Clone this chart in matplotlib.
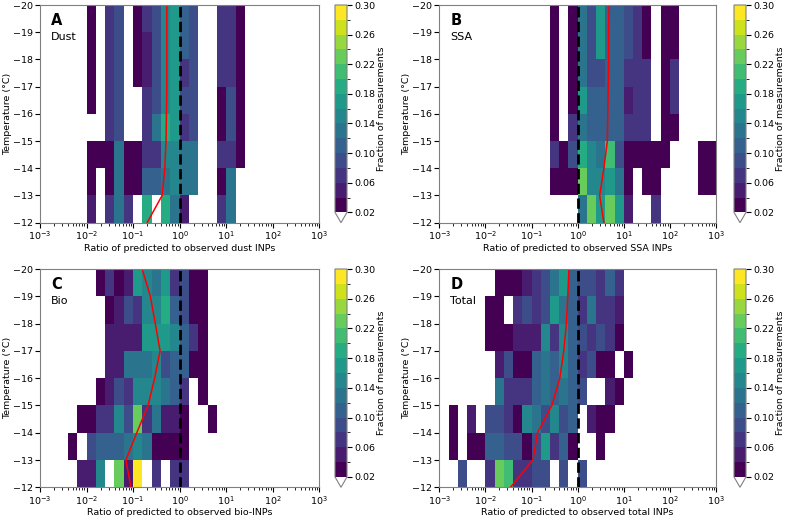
import numpy as np
import matplotlib
matplotlib.use("Agg")
import matplotlib.pyplot as plt
from matplotlib.colors import ListedColormap, BoundaryNorm

plt.rcParams['font.size'] = 6.8

# bins: log10 ratio in steps of 0.2 decades, temperature in 1 degree steps
x_edges = 10 ** np.arange(-3, 3.01, 0.2)
t_edges = np.arange(-12, -21, -1)
t_points = np.arange(-12, -21, -1)

# fraction of measurements (%) per temperature bin, rows from -12..-13 up to -19..-20
dust_pct = [
    [0,0,0,0,0, 5,0,7,13,7, 0,19,0,19,13, 5,0,0,0,7, 13,0,0,0,0, 0,0,0,0,0],
    [0,0,0,0,0, 3,0,3,13,3, 3,11,11,13,15, 13,13,0,0,3, 13,0,0,0,0, 0,0,0,0,0],
    [0,0,0,0,0, 3,3,3,13,3, 3,7,7,15,15, 13,13,0,0,7, 7,3,0,0,0, 0,0,0,0,0],
    [0,0,0,0,0, 0,0,7,9,0, 0,7,13,19,17, 7,9,0,0,3, 9,3,0,0,0, 0,0,0,0,0],
    [0,0,0,0,0, 3,0,7,9,0, 0,7,9,15,17, 9,9,0,0,3, 9,3,0,0,0, 0,0,0,0,0],
    [0,0,0,0,0, 3,0,7,9,0, 3,5,9,15,17, 7,9,0,0,7, 7,3,0,0,0, 0,0,0,0,0],
    [0,0,0,0,0, 3,0,7,9,0, 3,5,9,15,17, 11,9,0,0,7, 7,3,0,0,0, 0,0,0,0,0],
    [0,0,0,0,0, 3,0,7,9,0, 3,7,9,15,17, 11,9,0,0,7, 7,3,0,0,0, 0,0,0,0,0],
]
ssa_pct = [
    [0,0,0,0,0, 0,0,0,0,0, 0,0,0,0,0, 13,23,17,23,17, 5,0,0,7,0, 0,0,0,0,0],
    [0,0,0,0,0, 0,0,0,0,0, 0,0,3,3,3, 23,15,15,17,13, 3,0,3,3,0, 0,0,0,3,3],
    [0,0,0,0,0, 0,0,0,0,0, 0,0,7,3,9, 19,15,13,21,9, 3,3,3,3,3, 0,0,0,3,3],
    [0,0,0,0,0, 0,0,0,0,0, 0,0,3,0,7, 13,11,11,11,11, 7,7,7,0,3, 3,0,0,0,0],
    [0,0,0,0,0, 0,0,0,0,0, 0,0,3,0,3, 17,11,11,11,11, 5,7,7,0,3, 7,0,0,0,0],
    [0,0,0,0,0, 0,0,0,0,0, 0,0,3,0,3, 13,9,9,11,11, 7,7,7,0,3, 7,0,0,0,0],
    [0,0,0,0,0, 0,0,0,0,0, 0,0,3,0,3, 13,9,17,11,11, 9,7,3,0,3, 3,0,0,0,0],
    [0,0,0,0,0, 0,0,0,0,0, 0,0,3,0,3, 13,9,17,11,11, 9,7,3,0,3, 3,0,0,0,0],
]
bio_pct = [
    [0,0,0,0,5, 5,15,0,23,5, 29,0,7,0,7, 7,0,0,0,0, 0,0,0,0,0, 0,0,0,0,0],
    [0,0,0,3,0, 9,11,11,11,13, 15,13,3,3,3, 3,0,0,0,0, 0,0,0,0,0, 0,0,0,0,0],
    [0,0,0,0,3, 3,7,7,15,9, 23,7,13,5,5, 3,0,0,3,0, 0,0,0,0,0, 0,0,0,0,0],
    [0,0,0,0,0, 0,3,5,9,7, 15,15,15,13,11, 7,0,3,0,0, 0,0,0,0,0, 0,0,0,0,0],
    [0,0,0,0,0, 0,0,5,5,13, 13,13,15,9,11, 11,3,3,0,0, 0,0,0,0,0, 0,0,0,0,0],
    [0,0,0,0,0, 0,0,5,5,5, 5,17,17,17,15, 11,7,3,0,0, 0,0,0,0,0, 0,0,0,0,0],
    [0,0,0,0,0, 0,0,3,5,9, 7,15,15,19,11, 9,3,3,0,0, 0,0,0,0,0, 0,0,0,0,0],
    [0,0,0,0,0, 0,3,7,3,5, 17,15,13,17,7, 9,3,3,0,0, 0,0,0,0,0, 0,0,0,0,0],
]
total_pct = [
    [0,0,9,0,0, 7,23,21,7,7, 9,9,0,9,0, 9,0,0,0,0, 0,0,0,0,0, 0,0,0,0,0],
    [0,3,0,3,3, 11,11,9,9,3, 9,17,7,11,3, 0,0,3,0,0, 0,0,0,0,0, 0,0,0,0,0],
    [0,3,0,5,0, 9,9,7,3,15, 13,9,15,9,11, 0,5,3,3,0, 0,0,0,0,0, 0,0,0,0,0],
    [0,0,0,0,0, 0,13,7,7,7, 11,13,11,13,11, 9,0,0,5,3, 0,0,0,0,0, 0,0,0,0,0],
    [0,0,0,0,0, 0,5,9,3,3, 11,13,11,15,11, 7,9,3,3,0, 3,0,0,0,0, 0,0,0,0,0],
    [0,0,0,0,0, 3,3,3,5,5, 5,15,7,15,11, 9,7,9,7,3, 0,0,0,0,0, 0,0,0,0,0],
    [0,0,0,0,0, 3,3,0,7,9, 7,9,17,13,11, 7,13,7,7,5, 0,0,0,0,0, 0,0,0,0,0],
    [0,0,0,0,0, 0,3,3,3,5, 7,9,13,17,11, 9,9,7,11,7, 0,0,0,0,0, 0,0,0,0,0],
]

# median ratio at each temperature (-12 ... -20)
dust_median = [0.20, 0.42, 0.48, 0.51, 0.52, 0.53, 0.53, 0.53, 0.53]
ssa_median = [3.7, 3.0, 3.7, 4.4, 4.5, 4.6, 4.7, 4.7, 4.8]
bio_median = [0.09, 0.07, 0.12, 0.21, 0.29, 0.38, 0.30, 0.235, 0.156]
total_median = [0.035, 0.107, 0.135, 0.275, 0.41, 0.50, 0.57, 0.61, 0.65]

letters = ['A', 'B', 'C', 'D']
names = ['Dust', 'SSA', 'Bio', 'Total']
xlabels = ['Ratio of predicted to observed dust INPs',
           'Ratio of predicted to observed SSA INPs',
           'Ratio of predicted to observed bio-INPs',
           'Ratio of predicted to observed total INPs']
data = [dust_pct, ssa_pct, bio_pct, total_pct]
medians = [dust_median, ssa_median, bio_median, total_median]

levels = np.arange(0.02, 0.3001, 0.02)
cmap = ListedColormap(plt.get_cmap('viridis')(np.linspace(0, 1, len(levels) - 1)))
cmap.set_under('white')
norm = BoundaryNorm(levels, cmap.N)

fig = plt.figure(figsize=(7.85, 5.17), dpi=100)

W, H = 785, 517
boxes = [(40, 5, 279.3, 217.7, 335), (439.3, 5, 276.7, 217.7, 734),
         (40, 269, 279.3, 218.3, 335), (439.3, 269, 276.7, 218.3, 734)]

for i in range(4):
    l, t, w, h, cx = boxes[i]
    ax = fig.add_axes([l / W, (H - t - h) / H, w / W, h / H])
    cax = fig.add_axes([cx / W, (H - t - h) / H, 12 / W, h / H])

    z = np.array(data[i]) / 100.0
    mesh = ax.pcolormesh(x_edges, t_edges, z, cmap=cmap, norm=norm)
    ax.plot(medians[i], t_points, color='red', lw=1.1)
    ax.axvline(1, color='k', ls='--', lw=2)

    ax.set_xscale('log')
    ax.set_xlim(1e-3, 1e3)
    ax.set_ylim(-12, -20)
    ax.set_yticks(np.arange(-12, -21, -1))
    ax.tick_params(axis='both', which='major', pad=1.5)
    ax.set_xlabel(xlabels[i], labelpad=1)
    ax.set_ylabel('Temperature (°C)', labelpad=0.5)
    for s in ax.spines.values():
        s.set_color('0.5')

    ax.text(0.04, 0.965, letters[i], transform=ax.transAxes, fontsize=10.5,
            fontweight='bold', va='top')
    ax.text(0.04, 0.875, names[i], transform=ax.transAxes, fontsize=8, va='top')

    cb = fig.colorbar(mesh, cax=cax, extend='min', ticks=np.arange(0.02, 0.31, 0.04))
    cb.ax.set_yticklabels(['%.2f' % v for v in np.arange(0.02, 0.31, 0.04)])
    cb.ax.tick_params(pad=2)
    cb.set_label('Fraction of measurements', labelpad=1)
    cb.outline.set_edgecolor('0.5')

fig.savefig('out.png', dpi=100)
